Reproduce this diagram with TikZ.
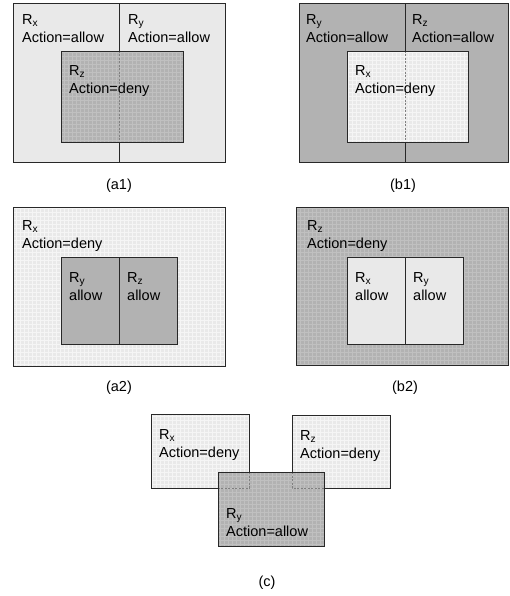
\documentclass[tikz,border=0pt]{standalone}
\usepackage{fontspec}
\setmainfont{Liberation Sans}
\definecolor{lightfill}{RGB}{233,233,233}
\definecolor{darkfill}{RGB}{178,178,178}
\definecolor{edge}{RGB}{40,40,40}

\begin{document}
\begin{tikzpicture}[x=1pt,y=-1pt,
  region/.style={draw=edge,line width=0.9pt},
  lightregion/.style={region,fill=lightfill},
  darkregion/.style={region,fill=darkfill},
  hidden/.style={draw=black!50,dash pattern=on 2pt off 1.5pt,line width=0.8pt},
  lightgrid/.style={draw=black!4,line width=0.3pt},
  darkgrid/.style={draw=white!18!darkfill,line width=0.3pt},
  txt/.style={anchor=north west,inner sep=0pt,align=left,font=\fontsize{14.5}{18}\selectfont},
  caption/.style={inner sep=0pt,font=\fontsize{14.5}{18}\selectfont}]

\useasboundingbox (0,0) rectangle (509,596);

\draw[lightregion] (13,3) rectangle (119,162);
\draw[lightregion] (119,3) rectangle (225,162);
\fill[darkfill] (61,51) rectangle (183,142);
\draw[darkgrid] (61,142) grid[step=4pt] (183,51);
\draw[hidden] (119,51) -- (119,142);
\draw[region] (61,51) rectangle (183,142);
\node[txt] (rxa1) at (22,14) {R\textsubscript{x}\\Action=allow};
\node[txt] (rya1) at (128,14) {R\textsubscript{y}\\Action=allow};
\node[txt] (rza1) at (69,65) {R\textsubscript{z}\\Action=deny};
\node[caption] (capa1) at (119,186) {(a1)};

\draw[darkregion] (299,3) rectangle (405,162);
\draw[darkregion] (405,3) rectangle (508,162);
\fill[lightfill] (347,51) rectangle (468,142);
\draw[lightgrid] (347,142) grid[step=4pt] (468,51);
\draw[hidden] (405,51) -- (405,142);
\draw[region] (347,51) rectangle (468,142);
\node[txt] (ryb1) at (306,14) {R\textsubscript{y}\\Action=allow};
\node[txt] (rzb1) at (412,14) {R\textsubscript{z}\\Action=allow};
\node[txt] (rxb1) at (355,65) {R\textsubscript{x}\\Action=deny};
\node[caption] (capb1) at (403,186) {(b1)};

\fill[lightfill] (13,207) rectangle (225,366);
\draw[lightgrid] (13,366) grid[step=4pt] (225,207);
\draw[region] (13,207) rectangle (225,366);
\draw[darkregion] (61,257) rectangle (119,344);
\draw[darkregion] (119,257) rectangle (177,344);
\node[txt] (rxa2) at (22,220) {R\textsubscript{x}\\Action=deny};
\node[txt] (rya2) at (69,272) {R\textsubscript{y}\\allow};
\node[txt] (rza2) at (127,272) {R\textsubscript{z}\\allow};
\node[caption] (capa2) at (119,388) {(a2)};

\fill[darkfill] (296,207) rectangle (508,365);
\draw[darkgrid] (296,365) grid[step=4pt] (508,207);
\draw[region] (296,207) rectangle (508,365);
\draw[lightregion] (347,257) rectangle (405,344);
\draw[lightregion] (405,257) rectangle (463,344);
\node[txt] (rzb2) at (307,220) {R\textsubscript{z}\\Action=deny};
\node[txt] (rxb2) at (355,272) {R\textsubscript{x}\\allow};
\node[txt] (ryb2) at (413,272) {R\textsubscript{y}\\allow};
\node[caption] (capb2) at (405,388) {(b2)};

\fill[lightfill] (151,414) rectangle (249,488);
\draw[lightgrid] (151,488) grid[step=4pt] (249,414);
\draw[region] (151,414) rectangle (249,488);
\fill[lightfill] (292,415) rectangle (390,488);
\draw[lightgrid] (292,488) grid[step=4pt] (390,415);
\draw[region] (292,415) rectangle (390,488);
\fill[darkfill] (218,472) rectangle (324,546);
\draw[darkgrid] (218,546) grid[step=4pt] (324,472);
\draw[hidden] (249,472) -- (249,488) -- (218,488);
\draw[hidden] (292,472) -- (292,488) -- (324,488);
\draw[region] (218,472) rectangle (324,546);
\node[txt] (rxc) at (159,429) {R\textsubscript{x}\\Action=deny};
\node[txt] (rzc) at (300,430) {R\textsubscript{z}\\Action=deny};
\node[txt] (ryc) at (226,508) {R\textsubscript{y}\\Action=allow};
\node[caption] (capc) at (267,583) {(c)};

\end{tikzpicture}
\end{document}
